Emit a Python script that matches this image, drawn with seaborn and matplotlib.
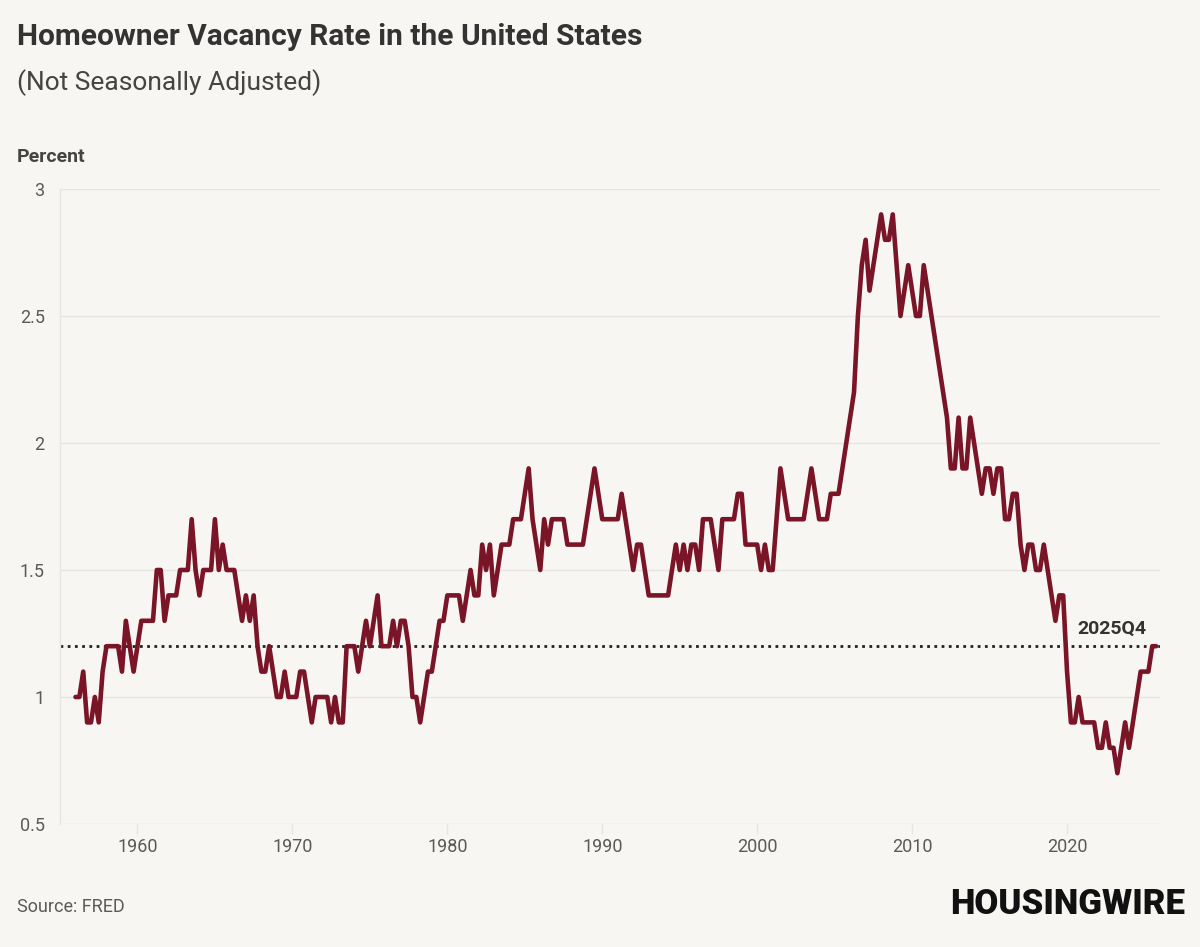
import matplotlib
matplotlib.use("Agg")
import matplotlib.pyplot as plt
from matplotlib import font_manager
import numpy as np
import pandas as pd
import seaborn as sns

# homeowner vacancy rate (%), quarterly, Q1..Q4 for each year
rate_1956_1959 = [1.0, 1.0, 1.1, 0.9,  0.9, 1.0, 0.9, 1.1,  1.2, 1.2, 1.2, 1.2,  1.1, 1.3, 1.2, 1.1]
rate_1960s = [1.2, 1.3, 1.3, 1.3,  1.3, 1.5, 1.5, 1.3,  1.4, 1.4, 1.4, 1.5,  1.5, 1.5, 1.7, 1.5,
              1.4, 1.5, 1.5, 1.5,  1.7, 1.5, 1.6, 1.5,  1.5, 1.5, 1.4, 1.3,  1.4, 1.3, 1.4, 1.2,
              1.1, 1.1, 1.2, 1.1,  1.0, 1.0, 1.1, 1.0]
rate_1970s = [1.0, 1.0, 1.1, 1.1,  1.0, 0.9, 1.0, 1.0,  1.0, 1.0, 0.9, 1.0,  0.9, 0.9, 1.2, 1.2,
              1.2, 1.1, 1.2, 1.3,  1.2, 1.3, 1.4, 1.2,  1.2, 1.2, 1.3, 1.2,  1.3, 1.3, 1.2, 1.0,
              1.0, 0.9, 1.0, 1.1,  1.1, 1.2, 1.3, 1.3]
rate_1980s = [1.4, 1.4, 1.4, 1.4,  1.3, 1.4, 1.5, 1.4,  1.4, 1.6, 1.5, 1.6,  1.4, 1.5, 1.6, 1.6,
              1.6, 1.7, 1.7, 1.7,  1.8, 1.9, 1.7, 1.6,  1.5, 1.7, 1.6, 1.7,  1.7, 1.7, 1.7, 1.6,
              1.6, 1.6, 1.6, 1.6,  1.7, 1.8, 1.9, 1.8]
rate_1990s = [1.7, 1.7, 1.7, 1.7,  1.7, 1.8, 1.7, 1.6,  1.5, 1.6, 1.6, 1.5,  1.4, 1.4, 1.4, 1.4,
              1.4, 1.4, 1.5, 1.6,  1.5, 1.6, 1.5, 1.6,  1.6, 1.5, 1.7, 1.7,  1.7, 1.6, 1.5, 1.7,
              1.7, 1.7, 1.7, 1.8,  1.8, 1.6, 1.6, 1.6]
rate_2000s = [1.6, 1.5, 1.6, 1.5,  1.5, 1.7, 1.9, 1.8,  1.7, 1.7, 1.7, 1.7,  1.7, 1.8, 1.9, 1.8,
              1.7, 1.7, 1.7, 1.8,  1.8, 1.8, 1.9, 2.0,  2.1, 2.2, 2.5, 2.7,  2.8, 2.6, 2.7, 2.8,
              2.9, 2.8, 2.8, 2.9,  2.7, 2.5, 2.6, 2.7]
rate_2010s = [2.6, 2.5, 2.5, 2.7,  2.6, 2.5, 2.4, 2.3,  2.2, 2.1, 1.9, 1.9,  2.1, 1.9, 1.9, 2.1,
              2.0, 1.9, 1.8, 1.9,  1.9, 1.8, 1.9, 1.9,  1.7, 1.7, 1.8, 1.8,  1.6, 1.5, 1.6, 1.6,
              1.5, 1.5, 1.6, 1.5,  1.4, 1.3, 1.4, 1.4]
rate_2020s = [1.1, 0.9, 0.9, 1.0,  0.9, 0.9, 0.9, 0.9,  0.8, 0.8, 0.9, 0.8,  0.8, 0.7, 0.8, 0.9,
              0.8, 0.9, 1.0, 1.1,  1.1, 1.1, 1.2, 1.2]
first_year = 1956
latest_label = "2025Q4"
latest_value = rate_2020s[-1]
y_ticks = [0.5, 1, 1.5, 2, 2.5, 3]
x_ticks = [1960, 1970, 1980, 1990, 2000, 2010, 2020]

rates = rate_1956_1959 + rate_1960s + rate_1970s + rate_1980s + rate_1990s + rate_2000s + rate_2010s + rate_2020s
df = pd.DataFrame({"date": first_year + np.arange(len(rates)) / 4, "rate": rates})

bg = "#f8f6f3"
grid = "#e7e5e2"
line_c = "#7a1427"
txt = "#333333"
muted = "#5a5a5a"

sns.set_theme(style="white")
names = {f.name for f in font_manager.fontManager.ttflist}
fam = [f for f in ["Liberation Sans Narrow", "Roboto", "DejaVu Sans"] if f in names]
plt.rcParams["font.family"] = fam

W, H = 1200, 947
fig = plt.figure(figsize=(W / 100, H / 100), dpi=100, facecolor=bg)
ax = fig.add_axes([60 / W, 1 - 824 / H, 1100 / W, 635 / H])
ax.set_facecolor(bg)

ax.axhline(latest_value, color="#222222", lw=2, ls=(0, (1, 1.6)), zorder=2)
sns.lineplot(data=df, x="date", y="rate", ax=ax, color=line_c, lw=3.3,
             solid_joinstyle="round", solid_capstyle="round", zorder=3)

ax.set_xlim(1955, 2026)
ax.set_ylim(0.5, 3)
ax.set_yticks(y_ticks)
ax.set_yticklabels(["0.5", "1", "1.5", "2", "2.5", "3"])
ax.set_xticks(x_ticks)
ax.grid(axis="y", color=grid, lw=1)
for s in ["top", "right", "bottom"]:
    ax.spines[s].set_visible(False)
ax.spines["left"].set_color(grid)
ax.spines["left"].set_linewidth(1)
ax.tick_params(axis="y", length=7, width=1, color=grid, pad=4, labelsize=13, labelcolor=muted)
ax.tick_params(axis="x", length=7, width=1, color=grid, pad=3, labelsize=13, labelcolor=muted, bottom=True)
ax.set_xlabel("")
ax.set_ylabel("")

ax.annotate(latest_label, xy=(df["date"].iloc[-1], latest_value), xytext=(-7, 6),
            textcoords="offset points", ha="right", va="bottom",
            fontsize=14, fontweight="bold", color=txt)

fig.text(17 / W, 1 - 37 / H, "Homeowner Vacancy Rate in the United States",
         fontsize=21.5, fontweight="bold", color=txt, va="center", ha="left")
fig.text(17 / W, 1 - 83 / H, "(Not Seasonally Adjusted)",
         fontsize=19, color="#444444", va="center", ha="left")
fig.text(17 / W, 1 - 157 / H, "Percent", fontsize=14, fontweight="bold",
         color="#444444", va="center", ha="left")
fig.text(17 / W, 1 - 907 / H, "Source: FRED", fontsize=13, color=muted,
         va="center", ha="left")
fig.text(1185 / W, 1 - 904 / H, "HOUSINGWIRE", fontsize=25, fontweight="heavy",
         color="#111111", va="center", ha="right")

fig.savefig("out.png", dpi=100, facecolor=bg)
